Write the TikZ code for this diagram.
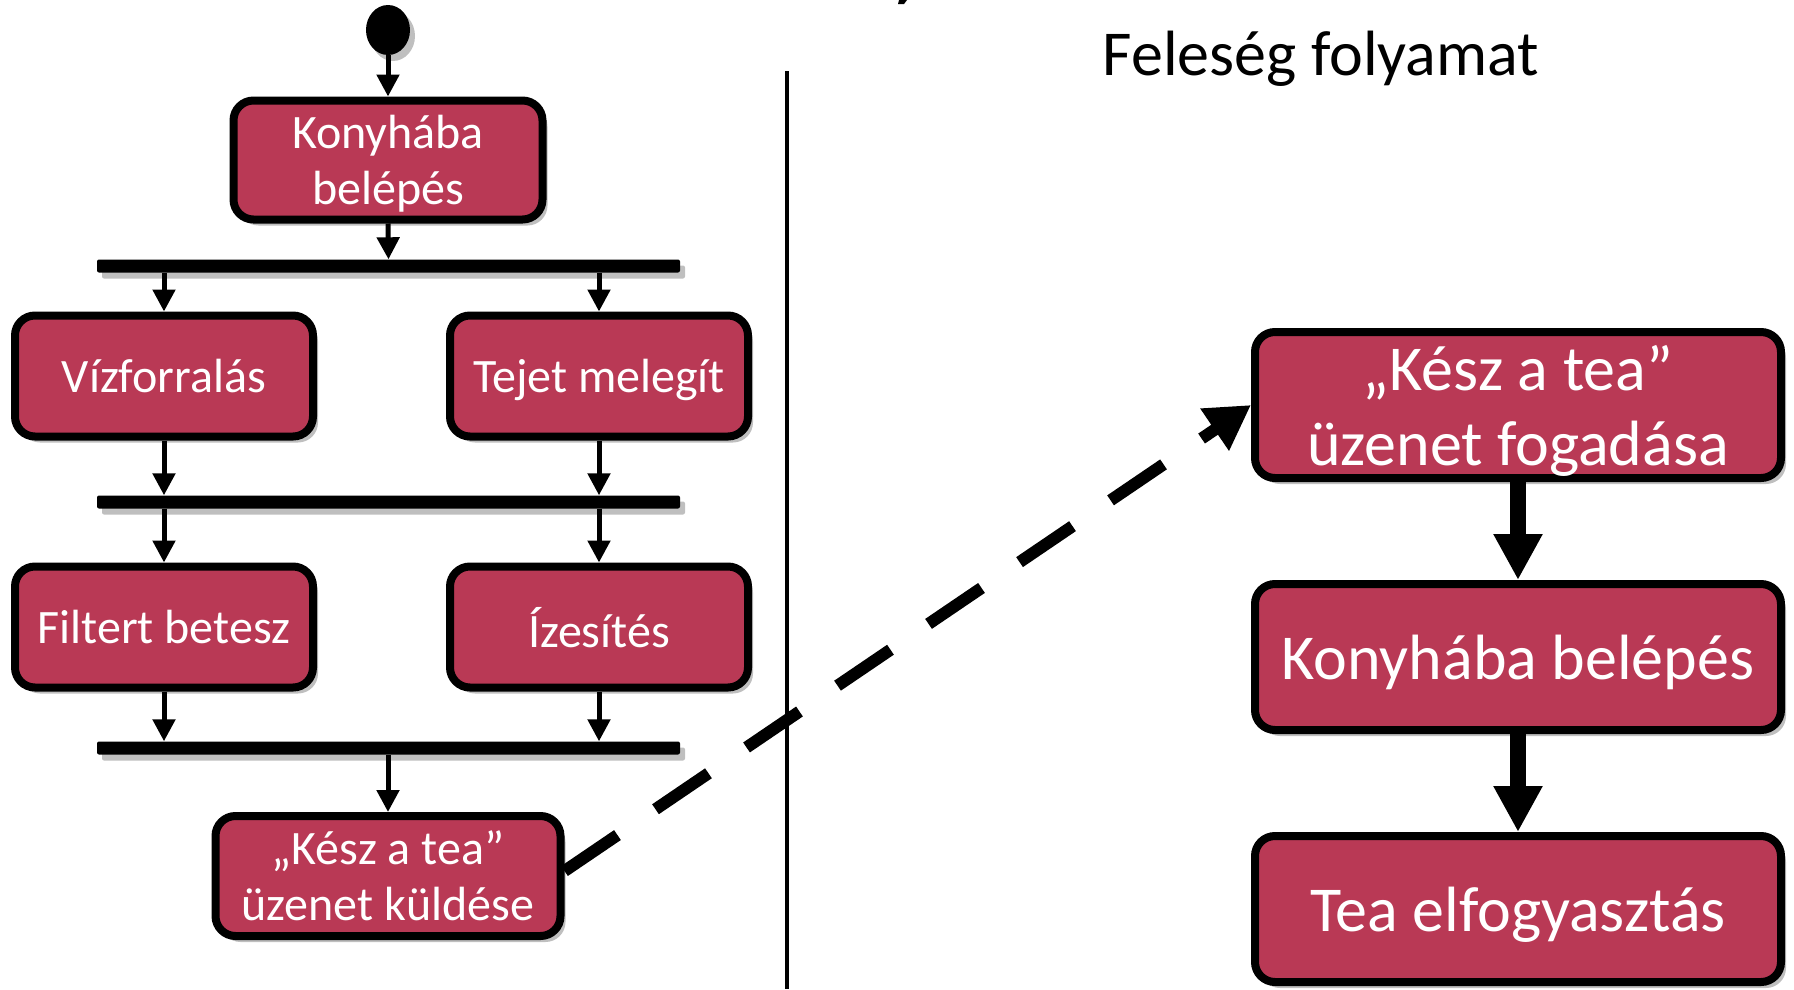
\documentclass[tikz,border=0pt]{standalone}
\usepackage{fontspec}
\setmainfont{Carlito}
\usetikzlibrary{arrows.meta,shapes.geometric,shadows}
\definecolor{boxred}{RGB}{185,57,85}
\begin{document}
\begin{tikzpicture}[x=1pt,y=-1pt,
  shad/.style={drop shadow={shadow xshift=5pt, shadow yshift=-6pt, opacity=0.25, fill=black}},
  box/.style={draw=black, line width=8pt, fill=boxred, rounded corners=20pt, text=white, align=center, inner sep=0pt, text depth=0pt, shad},
  lbox/.style={box, minimum width=298pt, minimum height=121pt, font=\fontsize{48}{56}\selectfont},
  rbox/.style={box, minimum width=526pt, minimum height=146pt, font=\fontsize{64}{75}\selectfont},
  bar/.style={fill=black, rounded corners=2pt, minimum width=583pt, minimum height=13pt, inner sep=0pt, shad},
  startdot/.style={ellipse, fill=black, minimum width=44pt, minimum height=50pt, inner sep=0pt, shad},
  arr/.style={line width=5pt, -{Triangle[width=22pt,length=22pt]}},
  bigarr/.style={line width=16pt, -{Triangle[width=46pt,length=46pt]}},
  msgarr/.style={line width=12pt, dash pattern=on 64pt off 46pt, -{Triangle[width=48pt,length=44pt]}},
]
\useasboundingbox (0,0) rectangle (1794,989);

% cut-off fragment at the top edge
\fill (899,0) -- (907,0) -- (904,4) -- (898,4) -- cycle;

% swimlane separator
\draw[line width=3.5pt] (787,71) -- (787,989);

% left lane
\node[startdot] (start) at (388,30) {};
\node[lbox, minimum width=309pt, minimum height=119pt] (kony1) at (388,160) {Konyhába\\belépés};
\node[bar] (bar1) at (388.5,266) {};
\node[lbox] (viz) at (164,376) {Vízforralás};
\node[lbox] (tej) at (599,376) {Tejet melegít};
\node[bar] (bar2) at (388.5,502) {};
\node[lbox] (filt) at (164,627) {Filtert betesz};
\node[lbox] (izes) at (599,627) {Ízesítés};
\node[bar] (bar3) at (388.5,748) {};
\node[lbox, minimum width=345pt, minimum height=120pt] (send) at (388,876) {„Kész a tea”\\üzenet küldése};

\draw[arr] (start.south) -- (kony1.north);
\draw[arr] (kony1.south) -- (bar1.north);
\draw[arr] (viz.north |- bar1.south) -- (viz.north);
\draw[arr] (tej.north |- bar1.south) -- (tej.north);
\draw[arr] (viz.south) -- (viz.south |- bar2.north);
\draw[arr] (tej.south) -- (tej.south |- bar2.north);
\draw[arr] (filt.north |- bar2.south) -- (filt.north);
\draw[arr] (izes.north |- bar2.south) -- (izes.north);
\draw[arr] (filt.south) -- (filt.south |- bar3.north);
\draw[arr] (izes.south) -- (izes.south |- bar3.north);
\draw[arr] (bar3.south -| send.north) -- (send.north);

% right lane
\node[anchor=base, font=\fontsize{64}{75}\selectfont] (title) at (1321,75) {Feleség folyamat};
\node[rbox] (recv) at (1518,405) {„Kész a tea”\\üzenet fogadása};
\node[rbox] (kony2) at (1518,657) {Konyhába belépés};
\node[rbox] (tea) at (1518,909) {Tea elfogyasztás};

\draw[bigarr] (recv.south) -- (kony2.north);
\draw[bigarr] (kony2.south) -- (tea.north);

% message
\draw[msgarr] ([yshift=5pt]send.east) -- (recv.west);
\end{tikzpicture}
\end{document}
